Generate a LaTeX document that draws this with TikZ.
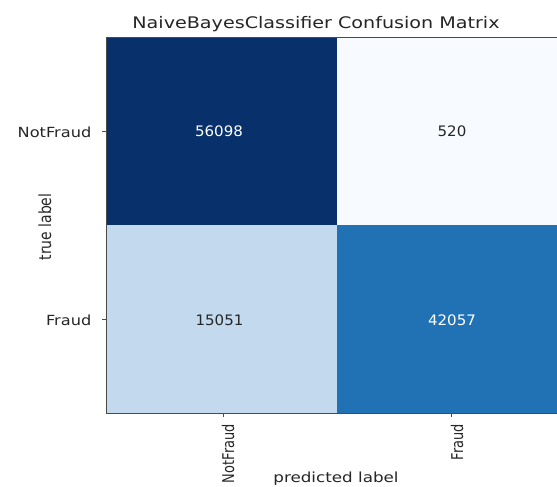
\documentclass[tikz,border=0pt]{standalone}
\usepackage{fontspec}
\setmainfont{DejaVu Sans}
\usepackage{graphicx}
\definecolor{bdark}{HTML}{08306B}
\definecolor{blight}{HTML}{F7FBFF}
\definecolor{bpale}{HTML}{C2D9EE}
\definecolor{bmid}{HTML}{2171B5}
\definecolor{txt}{HTML}{262626}
\definecolor{axc}{HTML}{4A4A4A}
\newcommand\xs[2]{\scalebox{#1}[1]{#2}}
\newcommand\ys[2]{\scalebox{1}[#1]{#2}}
\tikzset{
  ttl/.style={anchor=base, inner sep=0pt, text=txt, font=\fontsize{16}{19}\selectfont},
  tickl/.style={anchor=base east, inner sep=0pt, text=txt, font=\fontsize{14}{17}\selectfont},
  rotl/.style={rotate=90, anchor=east, inner sep=0pt, text=txt, font=\fontsize{13}{16}\selectfont},
  axl/.style={inner sep=0pt, text=txt, font=\fontsize{14}{17}\selectfont},
  num/.style={anchor=base, inner sep=0pt, font=\fontsize{14.5}{17}\selectfont},
  frame/.style={draw=axc, line width=0.9pt},
  tickm/.style={draw=axc, line width=0.9pt}
}
\begin{document}
\begin{tikzpicture}[x=1bp,y=-1bp]
\useasboundingbox (0,0) rectangle (557,487);
\fill[white] (0,0) rectangle (557,487);
\begin{scope}
\clip (0,0) rectangle (557,487);
\fill[bdark]  (106,37) rectangle (337,225);
\fill[blight] (337,37) rectangle (568,225);
\fill[bpale]  (106,225) rectangle (337,413);
\fill[bmid]   (337,225) rectangle (568,413);
\draw[frame] (106,37) rectangle (568,413);
\end{scope}
% ticks
\coordinate (ty1a) at (102,131); \coordinate (ty1b) at (106,131);
\coordinate (ty2a) at (102,319); \coordinate (ty2b) at (106,319);
\coordinate (tx1a) at (223,413); \coordinate (tx1b) at (223,417);
\coordinate (tx2a) at (451,413); \coordinate (tx2b) at (451,417);
\draw[tickm] (ty1a) -- (ty1b);
\draw[tickm] (ty2a) -- (ty2b);
\draw[tickm] (tx1a) -- (tx1b);
\draw[tickm] (tx2a) -- (tx2b);
% title
\node[ttl] (title) at (316,29) {\xs{1.2}{NaiveBayesClassifier Confusion Matrix}};
% tick labels
\node[tickl] (yt1) at (91.5,137.5) {\xs{1.16}{NotFraud}};
\node[tickl] (yt2) at (91.5,325.5) {\xs{1.16}{Fraud}};
\node[rotl] (xt1) at (228,424) {\ys{1.25}{NotFraud}};
\node[rotl] (xt2) at (457,424) {\ys{1.25}{Fraud}};
% axis labels
\node[axl, rotate=90] (ylab) at (45,227) {\ys{1.2}{true label}};
\node[axl, anchor=base] (xlab) at (336,482.5) {\xs{1.2}{predicted label}};
% cell values
\node[num, text=white] (c11) at (219,137) {\xs{1.04}{56098}};
\node[num, text=txt]   (c12) at (452,137) {\xs{1.04}{520}};
\node[num, text=txt]   (c21) at (219.5,325) {\xs{1.04}{15051}};
\node[num, text=white] (c22) at (452,325) {\xs{1.04}{42057}};
\end{tikzpicture}
\end{document}
